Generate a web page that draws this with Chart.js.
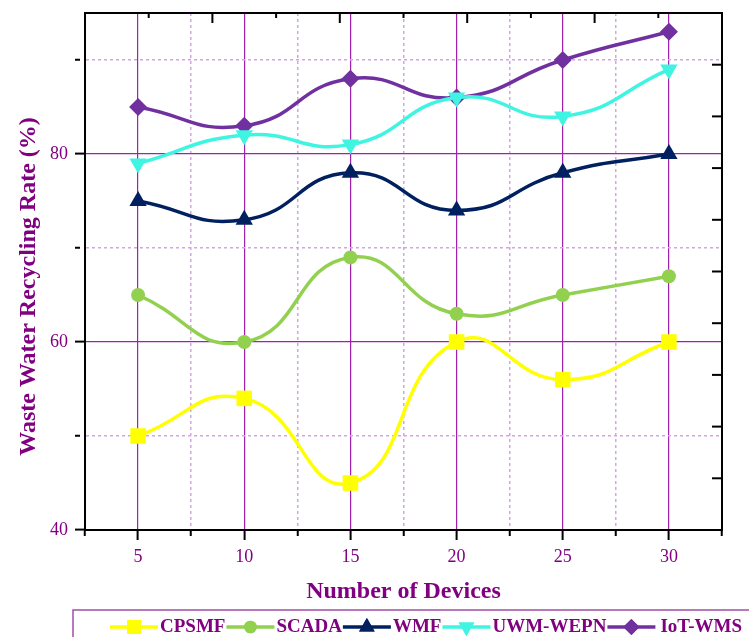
<!DOCTYPE html>
<html>
<head>
<meta charset="utf-8">
<script src="https://cdn.jsdelivr.net/npm/chart.js@4.4.1/dist/chart.umd.min.js"></script>
<style>
  html, body { margin: 0; padding: 0; background: #ffffff; }
  #wrap { width: 749px; height: 637px; position: relative; }
</style>
</head>
<body>
<div id="wrap"><canvas id="c"></canvas></div>
<script>
// ---- data ----
const categories = [5, 10, 15, 20, 25, 30];
const cpsmf   = [50, 54, 45, 60, 56, 60];
const scada   = [65, 60, 69, 63, 65, 67];
const wmf     = [75, 73, 78, 74, 78, 80];
const uwmWepn = [79, 82, 81, 86, 84, 89];
const iotWms  = [85, 83, 88, 86, 90, 93];

const seriesNames = ['CPSMF', 'SCADA', 'WMF', 'UWM-WEPN', 'IoT-WMS'];

// tick values
const xTickValues = [2.5, 5, 7.5, 10, 12.5, 15, 17.5, 20, 22.5, 25, 27.5, 30, 32.5];
const xTickLabels = [5, 10, 15, 20, 25, 30];
const yTickValues = [40, 50, 60, 70, 80, 90];
const yTickLabels = [40, 60, 80];
const topTickValues = [1, 2, 3, 4, 5, 6, 7, 8, 9];
const rightTickValues = [1, 2, 3, 4, 5, 6, 7, 8, 9];

// ---- styles ----
const TXT = '#800080';
const MAJOR = '#A020B0';
const MINOR = '#D4A4E4';
const SERIF = '"Liberation Serif", "Times New Roman", serif';

const styles = [
  { color: '#FFFF00', pointStyle: 'rect',     radius: 11,   rotation: 0 },
  { color: '#92D050', pointStyle: 'circle',   radius: 7,    rotation: 0 },
  { color: '#002060', pointStyle: 'triangle', radius: 10,   rotation: 0 },
  { color: '#3FF5E2', pointStyle: 'triangle', radius: 10,   rotation: 180 },
  { color: '#7030A0', pointStyle: 'rectRot',  radius: 9,    rotation: 0 }
];
const values = [cpsmf, scada, wmf, uwmWepn, iotWms];

const datasets = seriesNames.map((name, i) => ({
  label: name,
  data: categories.map((x, j) => ({ x: x, y: values[i][j] })),
  borderColor: styles[i].color,
  backgroundColor: styles[i].color,
  borderWidth: 3.5,
  tension: 0.5,
  pointStyle: styles[i].pointStyle,
  pointRadius: styles[i].radius,
  pointHoverRadius: styles[i].radius,
  pointRotation: styles[i].rotation,
  pointBorderWidth: 0,
  pointBackgroundColor: styles[i].color,
  clip: false
}));

const isMult = (v, m) => Math.abs(v / m - Math.round(v / m)) < 1e-6;

// inward ticks on top/right + custom legend
const extrasPlugin = {
  id: 'extras',
  afterDraw(chart) {
    const { ctx, chartArea: a, scales } = chart;
    ctx.save();
    ctx.strokeStyle = '#000';
    ctx.lineWidth = 2;
    ctx.setLineDash([]);
    scales.xTop.ticks.forEach(t => {
      const x = scales.xTop.getPixelForValue(t.value);
      const len = isMult(t.value, 2) ? 10 : 5;
      ctx.beginPath(); ctx.moveTo(x, a.top); ctx.lineTo(x, a.top + len); ctx.stroke();
    });
    scales.yRight.ticks.forEach(t => {
      const y = scales.yRight.getPixelForValue(t.value);
      ctx.beginPath(); ctx.moveTo(a.right, y); ctx.lineTo(a.right - 10, y); ctx.stroke();
    });

    // legend
    ctx.strokeStyle = '#A050A8';
    ctx.lineWidth = 1.5;
    ctx.strokeRect(73, 610, 720, 60);
    const cy = 627;
    let x = 110;
    ctx.font = 'bold 19px ' + SERIF;
    ctx.textBaseline = 'middle';
    ctx.textAlign = 'left';
    chart.data.datasets.forEach((ds, i) => {
      const st = styles[i];
      ctx.strokeStyle = st.color;
      ctx.lineWidth = 3.5;
      ctx.beginPath(); ctx.moveTo(x, cy); ctx.lineTo(x + 48, cy); ctx.stroke();
      ctx.fillStyle = st.color;
      Chart.helpers.drawPoint(ctx, {
        pointStyle: st.pointStyle, radius: st.radius * 0.9, rotation: st.rotation, borderWidth: 0
      }, x + 24, cy);
      ctx.fill();
      ctx.fillStyle = TXT;
      const tx = x + 50 + (i === 4 ? 3 : 0);
      ctx.fillText(ds.label, tx, cy);
      x = tx + ctx.measureText(ds.label).width + 1;
    });
    ctx.restore();
  }
};

new Chart(document.getElementById('c'), {
  type: 'line',
  data: { datasets: datasets },
  plugins: [extrasPlugin],
  options: {
    responsive: true,
    maintainAspectRatio: false,
    animation: false,
    layout: { padding: { left: 0, right: 27, top: 13, bottom: 0 } },
    plugins: { legend: { display: false }, tooltip: { enabled: false } },
    scales: {
      x: {
        type: 'linear',
        position: 'bottom',
        min: 2.5, max: 32.5,
        afterBuildTicks: s => { s.ticks = xTickValues.map(v => ({ value: v })); },
        afterFit: s => { s.height = 107; s.paddingLeft = 0; s.paddingRight = 0; },
        ticks: {
          autoSkip: false, maxRotation: 0, padding: 6,
          color: TXT,
          font: { family: SERIF, size: 18 },
          callback: v => xTickLabels.some(l => Math.abs(v - l) < 1e-6) ? String(v) : ''
        },
        grid: {
          color: c => {
            const v = c.tick.value;
            if (v <= 2.5 || v >= 32.5) return 'rgba(0,0,0,0)';
            return isMult(v, 5) ? MAJOR : MINOR;
          },
          lineWidth: c => isMult(c.tick.value, 5) ? 1.2 : 1.5,
          tickColor: '#000', tickLength: 10, tickWidth: 2,
          tickBorderDash: c => isMult(c.tick.value, 5) ? [] : [5, 100]
        },
        border: {
          display: true, color: '#000', width: 2,
          dash: c => (c.tick && !isMult(c.tick.value, 5)) ? [3, 3] : []
        },
        title: {
          display: true, text: 'Number of Devices', color: TXT,
          font: { family: SERIF, size: 24, weight: 'bold' },
          padding: { top: 0, bottom: 31 }
        }
      },
      y: {
        type: 'linear',
        position: 'left',
        min: 40, max: 95,
        afterBuildTicks: s => { s.ticks = yTickValues.map(v => ({ value: v })); },
        afterFit: s => { s.width = 85; s.paddingTop = 0; s.paddingBottom = 0; },
        ticks: {
          padding: 7, color: TXT,
          font: { family: SERIF, size: 18 },
          callback: v => yTickLabels.includes(v) ? String(v) : ''
        },
        grid: {
          color: c => {
            const v = c.tick.value;
            if (v <= 40) return 'rgba(0,0,0,0)';
            return isMult(v, 20) ? MAJOR : MINOR;
          },
          lineWidth: c => isMult(c.tick.value, 20) ? 1.2 : 1.5,
          tickColor: '#000', tickLength: 10, tickWidth: 2,
          tickBorderDash: c => isMult(c.tick.value, 20) ? [] : [5, 100]
        },
        border: {
          display: true, color: '#000', width: 2,
          dash: c => (c.tick && !isMult(c.tick.value, 20)) ? [3, 3] : []
        },
        title: {
          display: true, text: 'Waste Water Recycling Rate (%)     ', color: TXT,
          font: { family: SERIF, size: 24, weight: 'bold' },
          padding: { top: 14, bottom: 0 }
        }
      },
      xTop: {
        type: 'linear', position: 'top', min: 0, max: 10,
        afterBuildTicks: s => { s.ticks = topTickValues.map(v => ({ value: v })); },
        afterFit: s => { s.height = 0; s.paddingLeft = 0; s.paddingRight = 0; },
        ticks: { display: false },
        grid: { drawOnChartArea: false, drawTicks: false },
        border: { display: true, color: '#000', width: 2 }
      },
      yRight: {
        type: 'linear', position: 'right', min: 0, max: 10,
        afterBuildTicks: s => { s.ticks = rightTickValues.map(v => ({ value: v })); },
        afterFit: s => { s.width = 0; s.paddingTop = 0; s.paddingBottom = 0; },
        ticks: { display: false },
        grid: { drawOnChartArea: false, drawTicks: false },
        border: { display: true, color: '#000', width: 2 }
      }
    }
  }
});
</script>
</body>
</html>
